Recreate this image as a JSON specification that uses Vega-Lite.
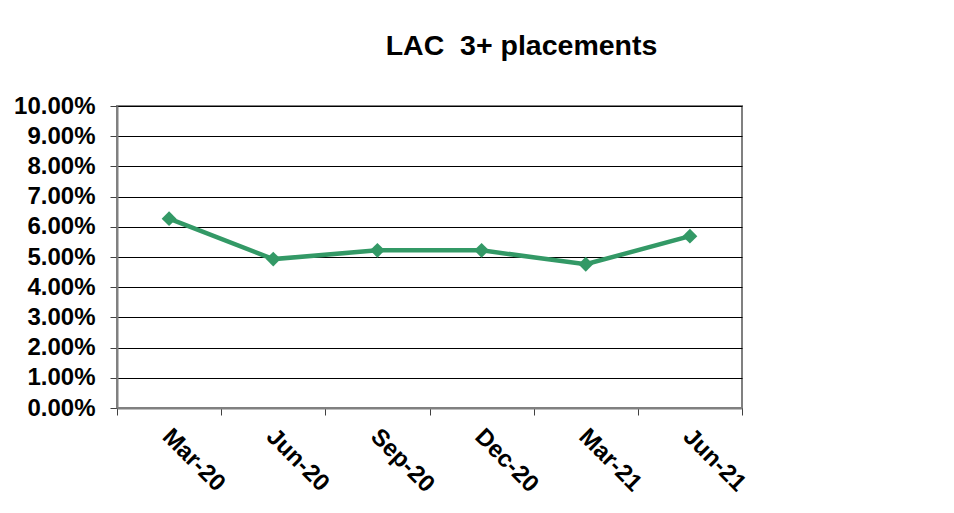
{
  "$schema": "https://vega.github.io/schema/vega-lite/v6.json",
  "autosize": {"type": "none"},
  "width": 625,
  "height": 302,
  "padding": {"left": 117, "top": 106, "right": 212, "bottom": 105},
  "background": "white",
  "title": {
    "text": "LAC\u00a0 3+ placements",
    "font": "Liberation Sans",
    "fontSize": 28.5,
    "fontWeight": "bold",
    "color": "black",
    "anchor": "middle",
    "frame": "group",
    "baseline": "alphabetic",
    "offset": 11,
    "dx": 92
  },
  "config": {
    "view": {"stroke": "#808080", "strokeWidth": 2},
    "font": "Liberation Sans"
  },
  "data": {
    "values": [
      {"period": "Mar-20", "rate": 0.0627},
      {"period": "Jun-20", "rate": 0.0493},
      {"period": "Sep-20", "rate": 0.0522},
      {"period": "Dec-20", "rate": 0.0522},
      {"period": "Mar-21", "rate": 0.0476},
      {"period": "Jun-21", "rate": 0.0569}
    ]
  },
  "mark": {
    "type": "line",
    "color": "#339966",
    "strokeWidth": 4.5,
    "point": {"shape": "diamond", "size": 220, "filled": true, "color": "#339966", "opacity": 1}
  },
  "encoding": {
    "x": {
      "field": "period",
      "type": "ordinal",
      "sort": null,
      "scale": {"paddingInner": 0, "paddingOuter": 0},
      "axis": {
        "title": null,
        "labelAngle": 45,
        "labelAlign": "left",
        "labelBaseline": "top",
        "labelFont": "Liberation Sans",
        "labelFontSize": 24,
        "labelFontWeight": "bold",
        "labelColor": "black",
        "labelPadding": 9,
        "labelOffset": 5,
        "tickBand": "extent",
        "tickSize": 7,
        "tickColor": "#404040",
        "tickWidth": 1,
        "domainColor": "#808080",
        "domainWidth": 2,
        "grid": false
      }
    },
    "y": {
      "field": "rate",
      "type": "quantitative",
      "scale": {"domain": [0, 0.1], "nice": false, "zero": true},
      "axis": {
        "title": null,
        "values": [0, 0.01, 0.02, 0.03, 0.04, 0.05, 0.06, 0.07, 0.08, 0.09, 0.1],
        "format": ".2%",
        "labelFont": "Liberation Sans",
        "labelFontSize": 24,
        "labelFontWeight": "bold",
        "labelColor": "black",
        "labelPadding": 15,
        "tickSize": 7,
        "tickColor": "#404040",
        "tickWidth": 1,
        "domainColor": "#808080",
        "domainWidth": 2,
        "grid": true,
        "gridColor": "black",
        "gridWidth": 1,
        "gridOpacity": 1
      }
    }
  }
}
